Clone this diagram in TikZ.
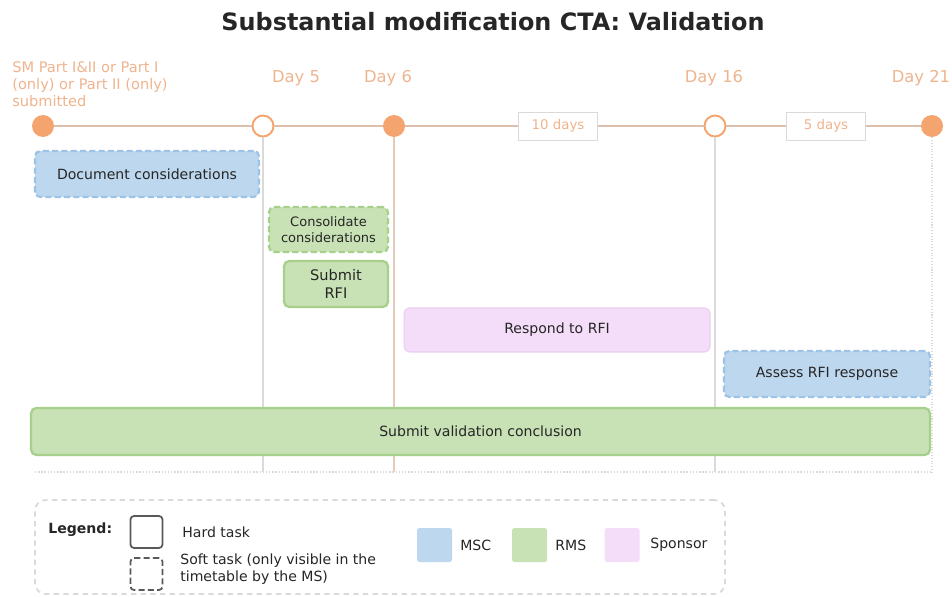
\documentclass[tikz,border=0pt]{standalone}
\usepackage{fontspec}
\setmainfont{DejaVu Sans}
\usetikzlibrary{positioning}

\definecolor{msorange}{HTML}{F4A46E}
\definecolor{lineTan}{HTML}{DDBFAC}
\definecolor{labelorange}{HTML}{EFB48D}
\definecolor{mscfill}{HTML}{BDD7EE}
\definecolor{mscdraw}{HTML}{9DC3E6}
\definecolor{rmsfill}{HTML}{C8E2B6}
\definecolor{rmsdraw}{HTML}{A6D08B}
\definecolor{spfill}{HTML}{F4DDF8}
\definecolor{spdraw}{HTML}{EBCDF2}
\definecolor{gridgray}{HTML}{DADADA}
\definecolor{textdark}{HTML}{262626}

\begin{document}
\begin{tikzpicture}[
        x=0.02cm, y=-0.02cm,
        every node/.style={font=\fontsize{8}{9.5}\selectfont, text=textdark},
        daylabel/.style={font=\fontsize{9.3}{11}\selectfont, text=labelorange, inner sep=0pt},
        hardms/.style={circle, fill=msorange, minimum size=0.44cm, inner sep=0pt},
        softms/.style={circle, draw=msorange, line width=1.1pt, fill=white, minimum size=0.42cm, inner sep=0pt},
        duration/.style={rectangle, draw=gridgray, fill=white, text=labelorange, minimum width=1.58cm, minimum height=0.56cm, font=\fontsize{7.6}{9}\selectfont},
        timeline/.style={draw=lineTan, line width=1.2pt},
        daysep/.style={draw=gridgray, line width=0.6pt},
        task/.style={rectangle, rounded corners=3pt, align=center, inner sep=0pt, line width=1.3pt},
        msc/.style={task, fill=mscfill, draw=mscdraw},
        rms/.style={task, fill=rmsfill, draw=rmsdraw},
        sponsor/.style={task, fill=spfill, draw=spdraw, line width=0.6pt},
        soft/.style={dash pattern=on 3.5pt off 1.8pt},
        swatch/.style={rectangle, rounded corners=1pt, minimum width=0.7cm, minimum height=0.68cm},
        legtext/.style={anchor=west, align=left, inner sep=0pt}
    ]
    \useasboundingbox (0,0) rectangle (952,597);

    \node[font=\bfseries\fontsize{13.6}{16}\selectfont] (title) at (493,22) {Substantial modification CTA: Validation};

    % milestones
    \node[hardms] (m0) at (43,126) {};
    \node[softms] (m5) at (263,126) {};
    \node[hardms] (m6) at (394,126) {};
    \node[softms] (m16) at (715,126) {};
    \node[hardms] (m21) at (932,126) {};
    \node[duration] (d10) at (558,126) {10 days};
    \node[duration] (d5) at (826,126) {5 days};

    \draw[timeline] (m0) -- (m5);
    \draw[timeline] (m5) -- (m6);
    \draw[timeline] (m6) -- (d10);
    \draw[timeline] (d10) -- (m16);
    \draw[timeline] (m16) -- (d5);
    \draw[timeline] (d5) -- (m21);

    \node[daylabel, align=left, anchor=west, font=\fontsize{8.3}{9.7}\selectfont] (sub) at (12,84) {SM Part I\&II or Part I\\(only) or Part II (only)\\submitted};
    \node[daylabel] (day5) at (296,78) {Day 5};
    \node[daylabel] (day6) at (388,78) {Day 6};
    \node[daylabel] (day16) at (714,78) {Day 16};
    \node[daylabel] (day21) at (921,78) {Day 21};

    % day separators
    \coordinate (b0) at (35,472);
    \coordinate (b1) at (933,472);
    \draw[daysep] (m5) -- (m5 |- b0);
    \draw[draw=lineTan!80, line width=1.6pt] (m6) -- (m6 |- b0);
    \draw[daysep] (m16) -- (m16 |- b0);
    \draw[daysep, densely dotted] (m21) -- (m21 |- b0);
    \draw[gridgray, densely dotted, line width=0.8pt] (b0) -- (b1);

    % tasks
    \node[msc, soft, minimum width=4.48cm, minimum height=0.92cm] (doc) at (147,174) {Document considerations};
    \node[rms, soft, minimum width=2.38cm, minimum height=0.9cm, font=\fontsize{7.4}{9}\selectfont] (cons) at (328.5,229.5) {Consolidate\\considerations};
    \node[rms, minimum width=2.08cm, minimum height=0.92cm, font=\fontsize{8.3}{10}\selectfont] (rfi) at (336,284) {Submit\\RFI};
    \node[sponsor, minimum width=6.12cm, minimum height=0.88cm] (resp) at (557,330) {Respond to RFI};
    \node[msc, soft, minimum width=4.12cm, minimum height=0.92cm] (assess) at (827,374) {Assess RFI response};
    \node[rms, minimum width=17.98cm, minimum height=0.94cm] (concl) at (480.5,431.5) {Submit validation conclusion};

    % legend
    \node[draw=gridgray, line width=1pt, dash pattern=on 3pt off 2.5pt, rounded corners=6pt, minimum width=13.8cm, minimum height=1.88cm] (legend) at (380,547) {};
    \node[legtext, font=\bfseries\fontsize{8}{9.5}\selectfont] (legtitle) at (48,530) {Legend:};
    \node[draw=black!65, line width=1pt, rounded corners=2pt, minimum size=0.64cm] (hard) at (146.5,532) {};
    \node[legtext] (hardtxt) at (182,532) {Hard task};
    \node[draw=black!65, line width=1pt, soft, rounded corners=2pt, minimum size=0.64cm] (softbox) at (146.5,574) {};
    \node[legtext] (softtxt) at (180,569) {Soft task (only visible in the\\timetable by the MS)};
    \node[swatch, fill=mscfill] (kmsc) at (434.5,545) {};
    \node[legtext] (kmsctxt) at (460,545) {MSC};
    \node[swatch, fill=rmsfill] (krms) at (529.5,545) {};
    \node[legtext] (krmstxt) at (555,545) {RMS};
    \node[swatch, fill=spfill] (ksp) at (622,545) {};
    \node[legtext] (ksptxt) at (650,545) {Sponsor};
\end{tikzpicture}
\end{document}
